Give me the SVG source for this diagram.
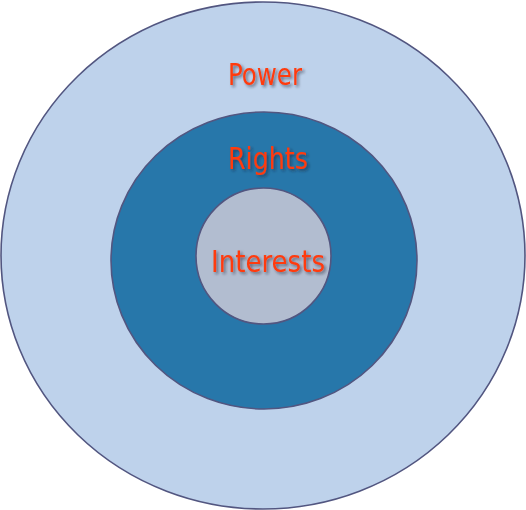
<svg xmlns="http://www.w3.org/2000/svg" width="526" height="510" viewBox="0 0 526 510">
  <defs>
    <filter id="shadow" x="-20%" y="-30%" width="140%" height="160%">
      <feDropShadow dx="2" dy="2" stdDeviation="1.4" flood-color="#1a1a2e" flood-opacity="0.55"/>
    </filter>
  </defs>
  <style>
    .ring { stroke: #525680; stroke-width: 1.6; }
    .label { font-family: "DejaVu Sans Condensed", "DejaVu Sans", Verdana, sans-serif; font-size: 30px; fill: #FF3A0A; text-anchor: middle; filter: url(#shadow); }
  </style>
  <g id="power">
    <ellipse class="ring" cx="263" cy="255.5" rx="262" ry="253.5" fill="#BED2EB"/>
    <text class="label" x="265" y="85" textLength="74" lengthAdjust="spacingAndGlyphs">Power</text>
  </g>
  <g id="rights">
    <ellipse class="ring" cx="264" cy="260.5" rx="153" ry="148.5" fill="#2777AA"/>
    <text class="label" x="268" y="169" textLength="80" lengthAdjust="spacingAndGlyphs">Rights</text>
  </g>
  <g id="interests">
    <ellipse class="ring" cx="263.5" cy="256" rx="67.5" ry="68" fill="#B2BDD0"/>
    <text class="label" x="268" y="272" textLength="114" lengthAdjust="spacingAndGlyphs">Interests</text>
  </g>
</svg>
